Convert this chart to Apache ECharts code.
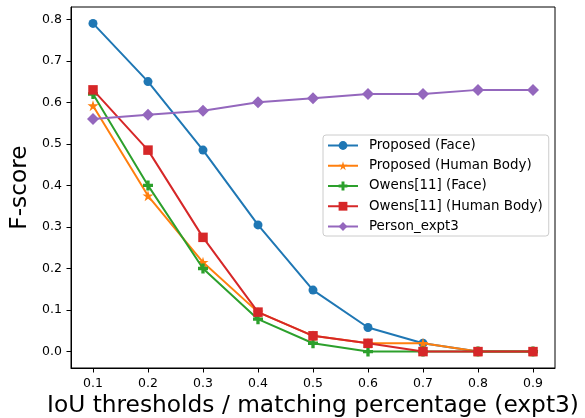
<!DOCTYPE html>
<html><head><meta charset="utf-8">
<script src="https://cdn.jsdelivr.net/npm/echarts@6/dist/echarts.min.js"></script>
<style>html,body{margin:0;padding:0;background:#fff}#c{width:585px;height:418px}</style>
</head><body><div id="c"></div>
<script>
const thresholds = [0.1, 0.2, 0.3, 0.4, 0.5, 0.6, 0.7, 0.8, 0.9];
const xTicks = [0.1, 0.2, 0.3, 0.4, 0.5, 0.6, 0.7, 0.8, 0.9];
const yTicks = [0.0, 0.1, 0.2, 0.3, 0.4, 0.5, 0.6, 0.7, 0.8];
const proposedFace = [0.79, 0.65, 0.485, 0.305, 0.148, 0.058, 0.02, 0, 0];
const proposedBody = [0.592, 0.375, 0.215, 0.095, 0.038, 0.02, 0.02, 0, 0];
const owensFace = [0.62, 0.40, 0.20, 0.078, 0.02, 0, 0, 0, 0];
const owensBody = [0.63, 0.485, 0.275, 0.095, 0.038, 0.02, 0, 0, 0];
const personExpt3 = [0.56, 0.57, 0.58, 0.60, 0.61, 0.62, 0.62, 0.63, 0.63];
const seriesNames = ['Proposed (Face)', 'Proposed (Human Body)', 'Owens[11] (Face)', 'Owens[11] (Human Body)', 'Person_expt3'];

const colors = ['#1f77b4', '#ff7f0e', '#2ca02c', '#d62728', '#9467bd'];
const starPath = 'path://M0,-100 L22,-31 L95,-31 L36,12 L59,81 L0,38 L-59,81 L-36,12 L-95,-31 L-22,-31 Z';
const plusPath = 'path://M1,0 H2 V1 H3 V2 H2 V3 H1 V2 H0 V1 H1 Z';
const symbols = ['circle', starPath, plusPath, 'rect', 'diamond'];
const sizes = [9, 11, 10, 9.5, 12];
const allData = [proposedFace, proposedBody, owensFace, owensBody, personExpt3];

const font = 'DejaVu Sans';
const chart = echarts.init(document.getElementById('c'), null, {renderer: 'canvas'});
chart.setOption({
  animation: false,
  grid: {left: 71, right: 30, top: 7, bottom: 50, show: true, borderColor: '#000', borderWidth: 1,
    containLabel: false, outerBoundsMode: 'none'},
  xAxis: {
    type: 'value', min: 0.06, max: 0.94,
    name: 'IoU thresholds / matching percentage (expt3)', nameLocation: 'middle', nameGap: 24,
    nameTextStyle: {fontFamily: font, fontSize: 23.3, color: '#000', verticalAlign: 'top'},
    splitLine: {show: false},
    axisLine: {show: true, onZero: false, lineStyle: {color: '#000', width: 1}},
    axisTick: {show: true, length: 4.5, lineStyle: {color: '#000'}, customValues: xTicks},
    axisLabel: {fontFamily: font, fontSize: 12.5, color: '#000', margin: 9, customValues: xTicks,
      formatter: v => v.toFixed(1)}
  },
  yAxis: {
    type: 'value', min: -0.0395, max: 0.8295,
    name: 'F-score', nameLocation: 'middle', nameGap: 37,
    nameTextStyle: {fontFamily: font, fontSize: 23.3, color: '#000'},
    splitLine: {show: false},
    axisLine: {show: true, onZero: false, lineStyle: {color: '#000', width: 1}},
    axisTick: {show: true, length: 4.5, lineStyle: {color: '#000'}, customValues: yTicks},
    axisLabel: {fontFamily: font, fontSize: 12.5, color: '#000', margin: 9, customValues: yTicks,
      formatter: v => v.toFixed(1)}
  },
  legend: {
    orient: 'vertical', left: 323, top: 135,
    backgroundColor: '#fff', borderColor: '#cccccc', borderWidth: 1, borderRadius: 3,
    padding: [4, 6, 3, 4], itemGap: 7.25, itemWidth: 30, itemHeight: 11,
    textStyle: {fontFamily: font, fontSize: 13.4, color: '#000', padding: [0, 0, 0, 6]},
    data: seriesNames
  },
  series: allData.map((d, i) => ({
    name: seriesNames[i], type: 'line',
    data: thresholds.map((x, j) => [x, d[j]]),
    symbol: symbols[i], symbolSize: sizes[i],
    lineStyle: {color: colors[i], width: 2},
    itemStyle: {color: colors[i]},
    z: 2 + i
  }))
});
</script></body></html>
